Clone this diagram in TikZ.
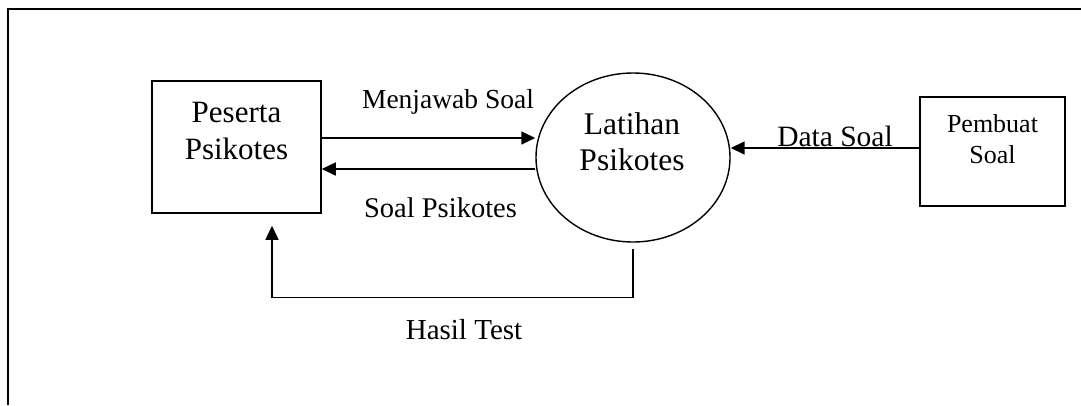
\documentclass[tikz,border=0pt]{standalone}
\usepackage{fontspec}
\setmainfont{Liberation Serif}
\usetikzlibrary{arrows.meta,shapes.geometric}

\tikzset{
  frameline/.style={line width=2bp},
  entity/.style={draw, line width=1.5bp, rectangle, inner sep=0pt},
  process/.style={draw, line width=1.4bp, ellipse, inner sep=0pt},
  bigtext/.style={align=center, inner sep=0pt, font=\fontsize{31bp}{37bp}\selectfont},
  smalltext/.style={align=center, inner sep=0pt, font=\fontsize{26bp}{31bp}\selectfont},
  flowlabel/.style={anchor=base, inner sep=0pt, font=\fontsize{28.5bp}{34bp}\selectfont},
  flow/.style={line width=1.5bp, -{Triangle[length=14bp,width=13bp]}}
}

\begin{document}
\begin{tikzpicture}[x=1bp,y=-1bp]
  \useasboundingbox (0,0) rectangle (1081,405);

  % outer frame (top and left edges)
  \draw[frameline] (1081,9) -- (8,9) -- (8,405);

  % external entities and the process
  \node[entity, minimum width=169bp, minimum height=132bp] (peserta) at (236.5,147) {};
  \node[bigtext] (pesertaText) at (236.5,131.4) {Peserta\\Psikotes};

  \node[process, minimum width=194bp, minimum height=169bp] (circ) at (633,157.5) {};
  \node[bigtext, font=\fontsize{31.5bp}{36bp}\selectfont] (circText) at (632,141.4) {Latihan\\Psikotes};

  \node[entity, minimum width=145bp, minimum height=109bp] (pembuat) at (992.5,151.5) {};
  \node[smalltext] (pembuatText) at (992.5,138.8) {Pembuat\\Soal};

  % data flows
  \coordinate (mjA) at ([yshift=9bp]peserta.east);
  \draw[flow] (mjA) -- (mjA -| circ.west);
  \node[flowlabel, font=\fontsize{27.5bp}{33bp}\selectfont] (mjLabel) at (448,108) {Menjawab Soal};

  \coordinate (spA) at ([yshift=-22bp]peserta.east);
  \draw[flow] (spA -| circ.west) -- (spA);
  \node[flowlabel] (spLabel) at (440.5,217) {Soal Psikotes};

  \coordinate (dsA) at ([yshift=3.5bp]pembuat.west);
  \draw[flow] (dsA) -- (dsA -| circ.east);
  \node[flowlabel, font=\fontsize{29.5bp}{35bp}\selectfont] (dsLabel) at (835,146) {Data Soal};

  \coordinate (htS) at ([yshift=-6bp]circ.south);
  \coordinate (htE) at ([xshift=35.5bp,yshift=-12bp]peserta.south);
  \draw[flow] (htS) -- ++(0,49) -| (htE);
  \node[flowlabel, font=\fontsize{29bp}{35bp}\selectfont] (htLabel) at (464,339) {Hasil Test};
\end{tikzpicture}
\end{document}
